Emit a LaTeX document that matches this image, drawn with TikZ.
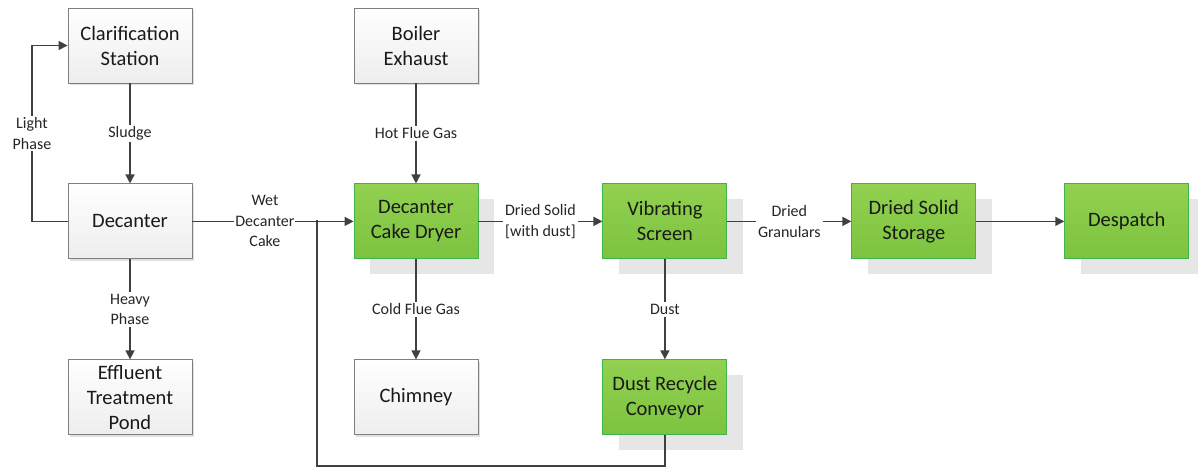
\documentclass[tikz,border=0pt]{standalone}
\usepackage{fontspec}
\setmainfont{Carlito}
\usetikzlibrary{arrows.meta,positioning,calc,shadows}
\definecolor{lineclr}{HTML}{404040}
\definecolor{greentop}{HTML}{92D050}
\definecolor{greenbot}{HTML}{7CC340}
\definecolor{greenedge}{HTML}{3DB54A}
\definecolor{greyedge}{HTML}{7F7F7F}
\definecolor{shadowclr}{HTML}{E6E6E6}

\begin{document}
\begin{tikzpicture}[x=1pt,y=-1pt,>={Triangle[length=9pt,width=9pt]},node distance=100pt and 124pt]
  \tikzstyle{box}=[draw,line width=0.9pt,minimum width=124pt,minimum height=75pt,align=center,inner sep=1pt,font=\fontsize{20.5}{25}\selectfont,text=black!90]
  \tikzstyle{greybox}=[box,draw=greyedge,top color=white,bottom color=black!7,drop shadow={shadow xshift=2pt,shadow yshift=-2pt,fill=black!20,opacity=0.6}]
  \tikzstyle{greenbox}=[box,draw=greenedge,top color=greentop,bottom color=greenbot,drop shadow={shadow xshift=16pt,shadow yshift=-15pt,fill=shadowclr,opacity=1}]
  \tikzstyle{flow}=[draw=lineclr,line width=1.5pt]
  \tikzstyle{lbl}=[fill=white,align=center,inner sep=2pt,font=\fontsize{16}{20.5}\selectfont,text=black!85]
  \useasboundingbox (0,0) rectangle (1198,468);
  \node[greybox] (clar) at (130,45.5) {Clarification\\Station};
  \node[greybox,below=of clar] (dec) {Decanter};
  \node[greybox,below=of dec] (eff) {Effluent\\Treatment\\Pond};
  \node[greybox] (boil) at (416,45.5) {Boiler\\Exhaust};
  \node[greenbox,below=of boil] (dryer) {Decanter\\Cake Dryer};
  \node[greybox,below=of dryer] (chim) {Chimney};
  \node[greenbox,right=of dryer] (vib) {Vibrating\\Screen};
  \node[greenbox,below=of vib] (dust) {Dust Recycle\\Conveyor};
  \node[greenbox,right=of vib] (store) {Dried Solid\\Storage};
  \node[greenbox,right=88pt of store] (desp) {Despatch};
  \coordinate (lp) at (32,0);
  \coordinate (loop) at (317,466);
  \coordinate (join) at (317,220);
  % connectors
  \draw[flow,->] (clar) -- node[lbl] {Sludge} (dec);
  \draw[flow,->] (dec) -- node[lbl] {Heavy\\Phase} (eff);
  \draw[flow,->] (dec.west) -| (lp |- dec) -- node[lbl] {Light\\Phase} (lp |- clar) -- (clar.west);
  \draw[flow,->] (dec) -- node[lbl,pos=0.45,inner sep=1pt] {Wet\\Decanter\\Cake} (dryer);
  \draw[flow,->] (boil) -- node[lbl] {Hot Flue Gas} (dryer);
  \draw[flow,->] (dryer) -- node[lbl] {Cold Flue Gas} (chim);
  \draw[flow,->] (dryer) -- node[lbl] {Dried Solid\\{[with dust]}} (vib);
  \draw[flow,->] (vib) -- node[lbl] {Dust} (dust);
  \draw[flow,->] (vib) -- node[lbl] {Dried\\Granulars} (store);
  \draw[flow,->] (store) -- (desp);
  \draw[flow] (dust.south) |- (loop) -- (join);
\end{tikzpicture}
\end{document}
